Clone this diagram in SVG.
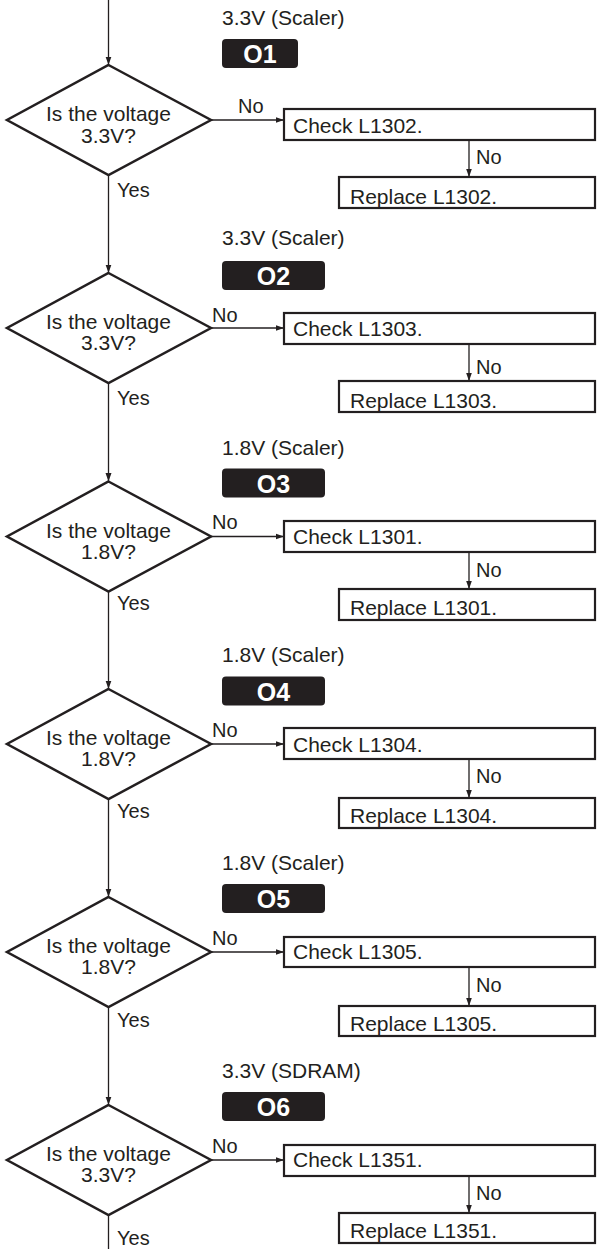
<svg xmlns="http://www.w3.org/2000/svg" width="597" height="1249" viewBox="0 0 597 1249">
<style>
text{font-family:"Liberation Sans",Arial,Helvetica,sans-serif;fill:#231f20;font-size:21px}
.c{text-anchor:middle}
.s{font-size:20px}
.b{fill:#231f20}
.bt{fill:#fff;font-weight:bold;font-size:25px;text-anchor:middle}
.d{fill:#fff;stroke:#231f20;stroke-width:2.5}
.r{fill:#fff;stroke:#231f20;stroke-width:2.2}
.l{fill:none;stroke:#231f20;stroke-width:1.3}
.a{fill:none;stroke:#231f20;stroke-width:1.3;marker-end:url(#ah)}
</style>
<defs>
<marker id="ah" markerWidth="9" markerHeight="7" refX="8.5" refY="3.5" orient="auto" markerUnits="userSpaceOnUse">
<path d="M0,0.5 L8.5,3.5 L0,6.5 Z" fill="#231f20"/>
</marker>
</defs>
<g id="connectors">
<line class="a" x1="108.5" y1="0" x2="108.5" y2="65"/>
<line class="a" x1="211" y1="120" x2="284" y2="120"/>
<line class="a" x1="469" y1="140" x2="469" y2="177"/>
<line class="a" x1="108.5" y1="175" x2="108.5" y2="273"/>
<line class="a" x1="211" y1="328" x2="284" y2="328"/>
<line class="a" x1="469" y1="344" x2="469" y2="381"/>
<line class="a" x1="108.5" y1="383" x2="108.5" y2="481.5"/>
<line class="a" x1="211" y1="536.5" x2="284" y2="536.5"/>
<line class="a" x1="469" y1="552" x2="469" y2="589"/>
<line class="a" x1="108.5" y1="591.5" x2="108.5" y2="689"/>
<line class="a" x1="211" y1="744" x2="284" y2="744"/>
<line class="a" x1="469" y1="759" x2="469" y2="798"/>
<line class="a" x1="108.5" y1="799" x2="108.5" y2="897"/>
<line class="a" x1="211" y1="952" x2="284" y2="952"/>
<line class="a" x1="469" y1="967" x2="469" y2="1006"/>
<line class="a" x1="108.5" y1="1007" x2="108.5" y2="1105"/>
<line class="a" x1="211" y1="1160" x2="284" y2="1160"/>
<line class="a" x1="469" y1="1176" x2="469" y2="1213"/>
<line class="l" x1="108.5" y1="1215" x2="108.5" y2="1249"/>
<text class="s" x="238" y="113">No</text>
<text class="s" x="476" y="164">No</text>
<text class="s" x="117" y="197">Yes</text>
<text class="s" x="212" y="321.5">No</text>
<text class="s" x="476" y="374">No</text>
<text class="s" x="117" y="405">Yes</text>
<text class="s" x="212" y="528.5">No</text>
<text class="s" x="476" y="577">No</text>
<text class="s" x="117" y="610">Yes</text>
<text class="s" x="212" y="737">No</text>
<text class="s" x="476" y="783">No</text>
<text class="s" x="117" y="818">Yes</text>
<text class="s" x="212" y="945">No</text>
<text class="s" x="476" y="992">No</text>
<text class="s" x="117" y="1027">Yes</text>
<text class="s" x="212" y="1153">No</text>
<text class="s" x="476" y="1200">No</text>
<text class="s" x="117" y="1245">Yes</text>
</g>
<g id="O1">
<text x="222" y="25">3.3V (Scaler)</text>
<rect class="b" x="222" y="39" width="76" height="29" rx="4"/>
<text class="bt" x="260" y="63">O1</text>
</g>
<g id="q1">
<polygon class="d" points="108.5,65 211,120 108.5,175 7,120"/>
<text class="c" x="108.5" y="121">Is the voltage</text>
<text class="c" x="108.5" y="142.5">3.3V?</text>
</g>
<g id="check1"><rect class="r" x="284" y="109" width="311" height="31"/><text x="293" y="133">Check L1302.</text></g>
<g id="replace1"><rect class="r" x="339" y="177" width="256" height="31"/><text x="350" y="204">Replace L1302.</text></g>

<g id="O2">
<text x="222" y="245">3.3V (Scaler)</text>
<rect class="b" x="222" y="261" width="103" height="29" rx="4"/>
<text class="bt" x="273.5" y="285">O2</text>
</g>
<g id="q2">
<polygon class="d" points="108.5,273 211,328 108.5,383 7,328"/>
<text class="c" x="108.5" y="329">Is the voltage</text>
<text class="c" x="108.5" y="350">3.3V?</text>
</g>
<g id="check2"><rect class="r" x="284" y="313" width="311" height="31"/><text x="293" y="336">Check L1303.</text></g>
<g id="replace2"><rect class="r" x="339" y="381" width="256" height="31"/><text x="350" y="408">Replace L1303.</text></g>

<g id="O3">
<text x="222" y="455">1.8V (Scaler)</text>
<rect class="b" x="222" y="468.5" width="103" height="29" rx="4"/>
<text class="bt" x="273.5" y="492.5">O3</text>
</g>
<g id="q3">
<polygon class="d" points="108.5,481.5 211,536.5 108.5,591.5 7,536.5"/>
<text class="c" x="108.5" y="537.5">Is the voltage</text>
<text class="c" x="108.5" y="558.5">1.8V?</text>
</g>
<g id="check3"><rect class="r" x="284" y="521" width="311" height="31"/><text x="293" y="544">Check L1301.</text></g>
<g id="replace3"><rect class="r" x="339" y="589" width="256" height="31"/><text x="350" y="615">Replace L1301.</text></g>

<g id="O4">
<text x="222" y="662">1.8V (Scaler)</text>
<rect class="b" x="222" y="676.5" width="103" height="29" rx="4"/>
<text class="bt" x="273.5" y="700.5">O4</text>
</g>
<g id="q4">
<polygon class="d" points="108.5,689 211,744 108.5,799 7,744"/>
<text class="c" x="108.5" y="745">Is the voltage</text>
<text class="c" x="108.5" y="766">1.8V?</text>
</g>
<g id="check4"><rect class="r" x="284" y="728" width="311" height="31"/><text x="293" y="752">Check L1304.</text></g>
<g id="replace4"><rect class="r" x="339" y="798" width="256" height="30"/><text x="350" y="823">Replace L1304.</text></g>

<g id="O5">
<text x="222" y="870">1.8V (Scaler)</text>
<rect class="b" x="222" y="884" width="103" height="29" rx="4"/>
<text class="bt" x="273.5" y="908">O5</text>
</g>
<g id="q5">
<polygon class="d" points="108.5,897 211,952 108.5,1007 7,952"/>
<text class="c" x="108.5" y="953">Is the voltage</text>
<text class="c" x="108.5" y="974">1.8V?</text>
</g>
<g id="check5"><rect class="r" x="284" y="937" width="311" height="30"/><text x="293" y="959">Check L1305.</text></g>
<g id="replace5"><rect class="r" x="339" y="1006" width="256" height="30"/><text x="350" y="1031">Replace L1305.</text></g>

<g id="O6">
<text x="222" y="1078">3.3V (SDRAM)</text>
<rect class="b" x="222" y="1092" width="103" height="29" rx="4"/>
<text class="bt" x="273.5" y="1116">O6</text>
</g>
<g id="q6">
<polygon class="d" points="108.5,1105 211,1160 108.5,1215 7,1160"/>
<text class="c" x="108.5" y="1161">Is the voltage</text>
<text class="c" x="108.5" y="1182">3.3V?</text>
</g>
<g id="check6"><rect class="r" x="284" y="1145" width="311" height="31"/><text x="293" y="1167">Check L1351.</text></g>
<g id="replace6"><rect class="r" x="339" y="1213" width="256" height="30"/><text x="350" y="1237.5">Replace L1351.</text></g>
</svg>
